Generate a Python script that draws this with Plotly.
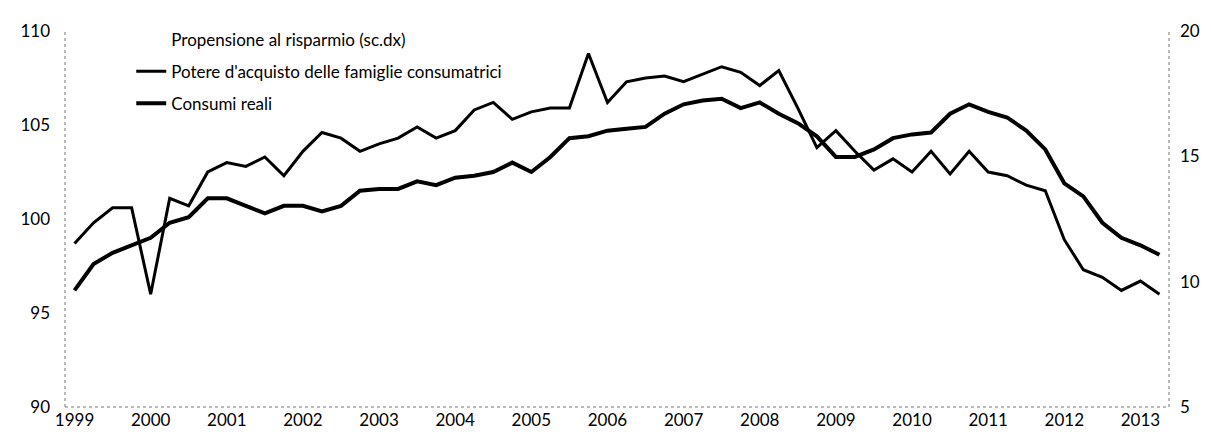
import plotly.graph_objects as go

years = [str(y) for y in range(1999, 2014)]
quarters = [f"{y}Q{q}" for y in range(1999, 2014) for q in range(1, 5)][:58]

potere_acquisto = [98.7, 99.8, 100.6, 100.6, 96.0, 101.1, 100.7, 102.5, 103.0, 102.8,
                   103.3, 102.3, 103.6, 104.6, 104.3, 103.6, 104.0, 104.3, 104.9, 104.3,
                   104.7, 105.8, 106.2, 105.3, 105.7, 105.9, 105.9, 108.8, 106.2, 107.3,
                   107.5, 107.6, 107.3, 107.7, 108.1, 107.8, 107.1, 107.9, 105.9, 103.8,
                   104.7, 103.6, 102.6, 103.2, 102.5, 103.6, 102.4, 103.6, 102.5, 102.3,
                   101.8, 101.5, 98.9, 97.3, 96.9, 96.2, 96.7, 96.0]
consumi_reali = [96.2, 97.6, 98.2, 98.6, 99.0, 99.8, 100.1, 101.1, 101.1, 100.7,
                 100.3, 100.7, 100.7, 100.4, 100.7, 101.5, 101.6, 101.6, 102.0, 101.8,
                 102.2, 102.3, 102.5, 103.0, 102.5, 103.3, 104.3, 104.4, 104.7, 104.8,
                 104.9, 105.6, 106.1, 106.3, 106.4, 105.9, 106.2, 105.6, 105.1, 104.4,
                 103.3, 103.3, 103.7, 104.3, 104.5, 104.6, 105.6, 106.1, 105.7, 105.4,
                 104.7, 103.7, 101.9, 101.2, 99.8, 99.0, 98.6, 98.1]

x_idx = list(range(len(quarters)))
tick_pos = [i for i, q in enumerate(quarters) if q.endswith("Q1")]
tick_txt = [quarters[i][:4] for i in tick_pos]

FONT = "Lato, 'Open Sans', sans-serif"

fig = go.Figure()
fig.add_trace(go.Scatter(x=[None], y=[None], name="Propensione al risparmio (sc.dx)",
                         mode="lines", line=dict(color="rgba(0,0,0,0)", width=0),
                         legendgroup="a", yaxis="y2", hoverinfo="skip"))
fig.add_trace(go.Scatter(x=x_idx, y=potere_acquisto,
                         name="Potere d'acquisto delle famiglie consumatrici",
                         mode="lines", line=dict(color="black", width=3),
                         legendgroup="b"))
fig.add_trace(go.Scatter(x=x_idx, y=consumi_reali, name="Consumi reali",
                         mode="lines", line=dict(color="black", width=4),
                         legendgroup="c"))

dot = dict(color="#777", width=1, dash="dot")
fig.add_shape(type="line", xref="x domain", yref="y domain", x0=0, x1=0, y0=0, y1=1, line=dot)
fig.add_shape(type="line", xref="x domain", yref="y domain", x0=1, x1=1, y0=0, y1=1, line=dot)
fig.add_shape(type="line", xref="x domain", yref="y domain", x0=0, x1=1, y0=0, y1=0, line=dot)

fig.update_layout(
    width=1211, height=439,
    margin=dict(l=57, r=50, t=18, b=40),
    paper_bgcolor="white", plot_bgcolor="white",
    font=dict(family=FONT, size=17, color="black"),
    showlegend=True,
    legend=dict(x=0.06, y=1.025, xanchor="left", yanchor="top",
                bgcolor="rgba(0,0,0,0)", traceorder="grouped", tracegroupgap=7,
                font=dict(size=17), itemwidth=30),
    xaxis=dict(range=[-0.5, len(quarters) - 0.5], tickmode="array",
               tickvals=tick_pos, ticktext=tick_txt, showgrid=False,
               zeroline=False, showline=False, ticks="", ticklabelstandoff=1),
    yaxis=dict(range=[90, 110], tickvals=[90, 95, 100, 105, 110], showgrid=False,
               zeroline=False, showline=False, ticks="", ticklabelstandoff=14),
    yaxis2=dict(range=[5, 20], tickvals=[5, 10, 15, 20], overlaying="y", side="right",
                showgrid=False, zeroline=False, showline=False, ticks="",
                ticklabelstandoff=10),
)

fig.write_html("out.html")
